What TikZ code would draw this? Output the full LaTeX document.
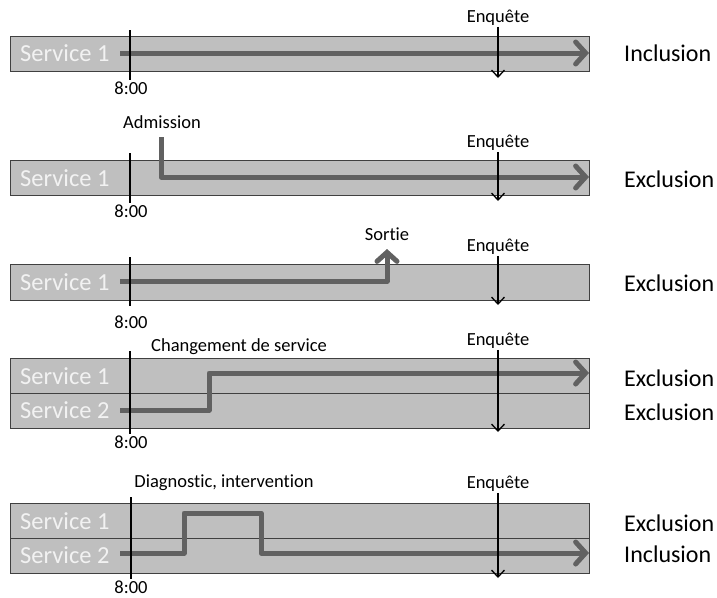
\documentclass[tikz,border=0pt]{standalone}
\usepackage{fontspec}
\setmainfont{Carlito}[Ligatures={NoCommon}]
\usetikzlibrary{arrows.meta}
\usetikzlibrary{positioning}

\begin{document}
\begin{tikzpicture}[
  x=1pt, y=-1pt,
  bar/.style = {draw=black!75, fill=black!25, line width=0.9pt},
  hour/.style = {draw=black, line width=1.6pt},
  poll/.style = {draw=black, line width=1.3pt, -{Straight Barb[length=7pt,width=13pt,line width=1.3pt]}},
  stay/.style = {draw=black!62, line width=5pt, line join=round},
  stayout/.style = {stay, -{Straight Barb[length=10pt,width=22pt,line cap=round]}},
  svc/.style = {anchor=west, inner sep=1pt, text=white!95!black, font=\fontsize{24.5}{28}\selectfont},
  note/.style = {inner sep=1pt, font=\fontsize{18.5}{22}\selectfont},
  verdict/.style = {anchor=west, inner sep=1pt, font=\fontsize{24}{28}\selectfont}
  ]
  \useasboundingbox (0,0) rectangle (717,597);

  % case 1
  \draw[bar] (10,36) rectangle (589,71);
  \node[svc] (s11) at (19,53) {Service 1};
  \coordinate (@a1) at (120,53);
  \coordinate (@b1) at (589,53);
  \draw[stayout] (@a1) -- (@b1);
  \coordinate (@t1) at (130,30);
  \node[note,anchor=north] (h1) at (131,81) {8:00};
  \draw[hour] (@t1) -- (130,80);
  \node[note] (e1) at (498,18) {Enquête};
  \coordinate (@q1) at (498,78);
  \draw[poll] (e1.south) -- (@q1);
  \node[verdict] (v1) at (623,53) {Inclusion};

  % case 2
  \draw[bar] (10,160) rectangle (589,195);
  \node[svc] (s21) at (19,178) {Service 1};
  \node[note] (adm) at (162,122) {Admission};
  \coordinate (@a2) at (161,137);
  \coordinate (@c2) at (161,177);
  \coordinate (@b2) at (589,177);
  \draw[stayout] (@a2) -- (@c2) -- (@b2);
  \coordinate (@t2) at (130,153);
  \node[note,anchor=north] (h2) at (131,204) {8:00};
  \draw[hour] (@t2) -- (130,203);
  \node[note] (e2) at (498,143) {Enquête};
  \coordinate (@q2) at (498,201);
  \draw[poll] (e2.south) -- (@q2);
  \node[verdict] (v2) at (623,179) {Exclusion};

  % case 3
  \draw[bar] (10,264) rectangle (589,300);
  \node[svc] (s31) at (19,282) {Service 1};
  \node[note] (out) at (387,234) {Sortie};
  \coordinate (@a3) at (120,281);
  \coordinate (@c3) at (387,281);
  \coordinate (@b3) at (387,249);
  \draw[stay, -{Straight Barb[length=9pt,width=20pt,line cap=round]}] (@a3) -- (@c3) -- (@b3);
  \coordinate (@t3) at (130,257);
  \node[note,anchor=north] (h3) at (131,315) {8:00};
  \draw[hour] (@t3) -- (130,306);
  \node[note] (e3) at (498,247) {Enquête};
  \coordinate (@q3) at (498,305);
  \draw[poll] (e3.south) -- (@q3);
  \node[verdict] (v3) at (623,283) {Exclusion};

  % case 4
  \draw[bar] (10,358) rectangle (589,428);
  \draw[bar, fill=none] (10,393) -- (589,393);
  \node[svc] (s41) at (19,376) {Service 1};
  \node[svc] (s42) at (19,410) {Service 2};
  \node[note] (chg) at (239,347) {Changement de service};
  \coordinate (@a4) at (120,410);
  \coordinate (@c4) at (209,410);
  \coordinate (@d4) at (209,373);
  \coordinate (@b4) at (589,373);
  \draw[stayout] (@a4) -- (@c4) -- (@d4) -- (@b4);
  \coordinate (@t4) at (130,351);
  \node[note,anchor=north] (h4) at (131,435) {8:00};
  \draw[hour] (@t4) -- (130,434);
  \node[note] (e4) at (498,341) {Enquête};
  \coordinate (@q4) at (498,432);
  \draw[poll] (e4.south) -- (@q4);
  \node[verdict] (v41) at (623,378) {Exclusion};
  \node[verdict] (v42) at (623,412) {Exclusion};

  % case 5
  \draw[bar] (10,503) rectangle (589,573);
  \draw[bar, fill=none] (10,538) -- (589,538);
  \node[svc] (s51) at (19,521) {Service 1};
  \node[svc] (s52) at (19,555) {Service 2};
  \node[note] (diag) at (224,483) {Diagnostic, intervention};
  \coordinate (@a5) at (120,553);
  \coordinate (@c5) at (184,553);
  \coordinate (@d5) at (184,513);
  \coordinate (@f5) at (261,513);
  \coordinate (@g5) at (261,553);
  \coordinate (@b5) at (589,553);
  \draw[stayout] (@a5) -- (@c5) -- (@d5) -- (@f5) -- (@g5) -- (@b5);
  \coordinate (@t5) at (131,497);
  \node[note,anchor=north] (h5) at (131,580) {8:00};
  \draw[hour] (@t5) -- (131,579);
  \node[note] (e5) at (498,484) {Enquête};
  \coordinate (@q5) at (498,578);
  \draw[poll] (e5.south) -- (@q5);
  \node[verdict] (v51) at (623,523) {Exclusion};
  \node[verdict] (v52) at (623,554) {Inclusion};

\end{tikzpicture}
\end{document}
